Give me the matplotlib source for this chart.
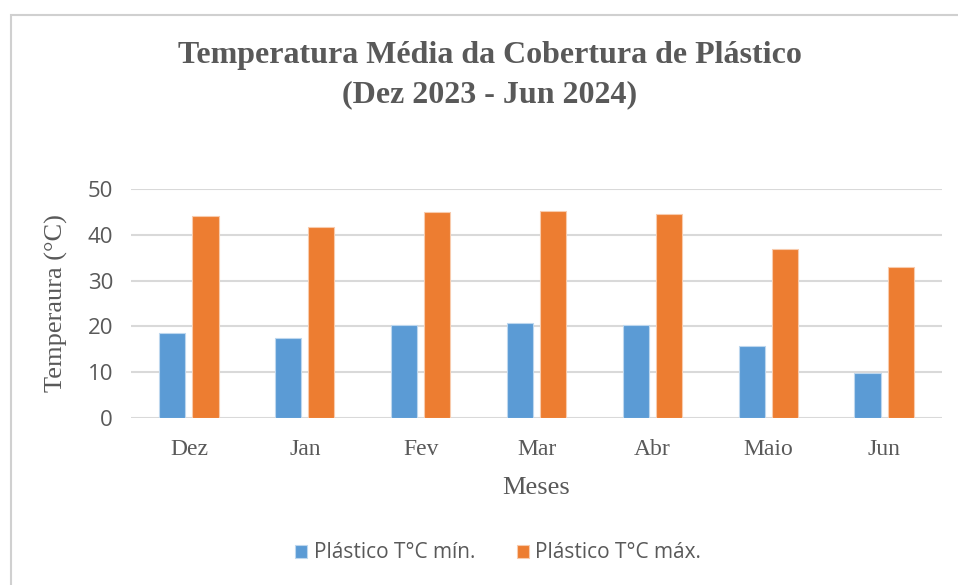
import numpy as np
import matplotlib.pyplot as plt
from matplotlib.patches import Rectangle

meses = ["Dez", "Jan", "Fev", "Mar", "Abr", "Maio", "Jun"]
temp_min = [18.5, 17.4, 20.4, 20.7, 20.4, 15.7, 9.8]
temp_max = [44.1, 41.6, 44.9, 45.3, 44.5, 36.8, 32.9]

serif = ["Liberation Serif", "DejaVu Serif"]
sans = ["Open Sans", "DejaVu Sans"]
grey = "#595959"

fig = plt.figure(figsize=(9.58, 5.85), dpi=100)
ax = fig.add_axes([131 / 958, 1 - 418 / 585, (942 - 131) / 958, (418 - 189) / 585])

# outer chart frame
fig.patches.append(Rectangle((11 / 958, -0.05), 1.0, 1.05 - 15 / 585,
                             transform=fig.transFigure, fill=False,
                             edgecolor="#d0d0d0", linewidth=1.5))

x = np.arange(len(meses))
w = 0.225
off = 0.143
ax.bar(x - off, temp_min, w, color="#5b9bd5", edgecolor="#bdd7ee",
       linewidth=0.8, label="Plástico T°C mín.", zorder=3)
ax.bar(x + off, temp_max, w, color="#ed7d31", edgecolor="#f8cbad",
       linewidth=0.8, label="Plástico T°C máx.", zorder=3)

ax.set_xlim(-0.5, len(meses) - 0.5)
ax.set_ylim(0, 50)
ax.set_yticks(range(0, 51, 10))
ax.grid(axis="y", color="#d9d9d9", linewidth=1.5, zorder=0)
for s in ax.spines.values():
    s.set_visible(False)
ax.tick_params(length=0)
ax.tick_params(axis="y", pad=13)
ax.tick_params(axis="x", pad=15)

ax.set_xticks(x)
ax.set_xticklabels(meses, fontfamily=serif, fontsize=17, color=grey)
for lab in ax.get_yticklabels():
    lab.set_fontfamily(sans)
    lab.set_fontsize(16)
    lab.set_color(grey)

ax.set_xlabel("Meses", fontfamily=serif, fontsize=19, color=grey, labelpad=12)
ax.set_ylabel("Temperaura (°C)", fontfamily=serif, fontsize=19, color=grey,
              labelpad=14)

fig.text(0.511, 1 - 56 / 585, "Temperatura Média da Cobertura de Plástico",
         ha="center", va="center", fontfamily=serif, fontsize=23,
         fontweight="bold", color=grey)
fig.text(0.511, 1 - 95 / 585, "(Dez 2023 - Jun 2024)",
         ha="center", va="center", fontfamily=serif, fontsize=23,
         fontweight="bold", color=grey)

fig.legend(loc="center", bbox_to_anchor=(0.52, 1 - 553 / 585), ncol=2,
           frameon=False, prop={"family": sans, "size": 15},
           labelcolor=grey, handlelength=0.6, handleheight=0.6,
           handletextpad=0.3, columnspacing=2.0)

fig.savefig("out.png", dpi=100)
